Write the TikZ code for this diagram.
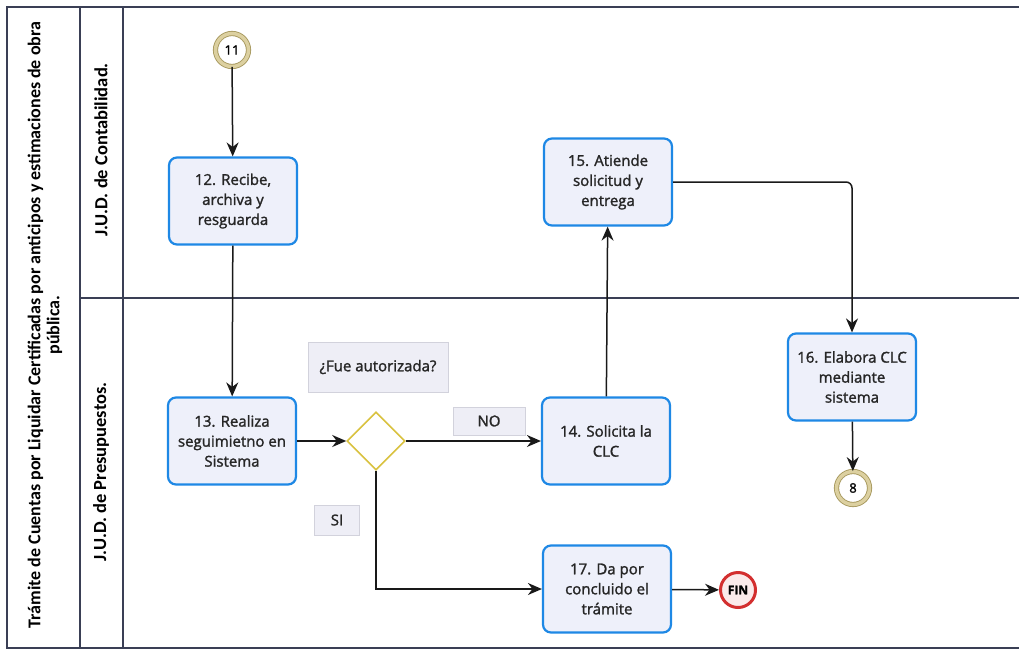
\documentclass[tikz,border=0pt]{standalone}
\usepackage{fontspec}
\setmainfont{Open Sans}[FakeBold=1.6]
\newfontfamily\hdrfont{Carlito}
\usetikzlibrary{arrows.meta,shapes.geometric}
\definecolor{gridc}{HTML}{3A3F55}
\definecolor{taskb}{HTML}{1E88E5}
\definecolor{taskf}{HTML}{EEF0FA}
\definecolor{goldc}{HTML}{A89A60}
\definecolor{goldf}{HTML}{DCD0A0}
\definecolor{finc}{HTML}{D32F2F}
\definecolor{finf}{HTML}{FBEAEA}
\definecolor{diac}{HTML}{D9C23F}
\definecolor{lblf}{HTML}{EEEEF6}
\definecolor{lbld}{HTML}{D2D2DC}
\tikzset{
  grid/.style={draw=gridc, line width=1.2pt},
  hdr/.style={rotate=90, font=\hdrfont\bfseries\fontsize{18.5}{19}\selectfont, align=center},
  task/.style={draw=taskb, fill=taskf, line width=2.2pt, rounded corners=8pt,
    minimum width=128pt, minimum height=87pt, align=center,
    font=\fontsize{15}{20}\selectfont, text=black!85},
  link/.style={line width=1.5pt, draw=black!90, -{Stealth[length=14pt,width=12pt]}},
  goldev/.style={circle, draw=goldc, line width=0.9pt, double=goldf, double distance=3.4pt,
    minimum size=33pt, inner sep=0pt, font=\fontsize{13}{15}\selectfont, fill=white},
  finev/.style={circle, draw=finc, line width=3pt, fill=finf, minimum size=35pt, inner sep=0pt,
    font=\bfseries\fontsize{12}{13}\selectfont},
  gate/.style={diamond, draw=diac, fill=white, line width=1.6pt, minimum width=58pt, minimum height=58pt, inner sep=0pt},
  lbl/.style={fill=lblf, draw=lbld, line width=0.6pt, inner sep=0pt, font=\fontsize{15}{16}\selectfont, text=black!85}
}
\begin{document}
\begin{tikzpicture}[x=1pt,y=-1pt]
\useasboundingbox (0,0) rectangle (1019,651);
\fill[white] (0,0) rectangle (1019,651);
% pool and lanes
\draw[grid] (1019,7) -- (7,7) -- (7,648) -- (1019,648);
\draw[grid] (80,7) -- (80,648);
\draw[grid] (123,7) -- (123,648);
\draw[grid] (80,298) -- (1019,298);
\node[hdr, font=\hdrfont\bfseries\fontsize{18}{19}\selectfont] (title) at (45,325) {Trámite de Cuentas por Liquidar Certificadas por anticipos y estimaciones de obra\\pública.};
\node[hdr] (laneA) at (101,150) {J.U.D. de Contabilidad.};
\node[hdr] (laneB) at (101,472) {J.U.D. de Presupuestos.};
% labels
\node[lbl, minimum width=140pt, minimum height=50pt] (qlbl) at (378,367) {¿Fue autorizada?};
\node[lbl, minimum width=72pt, minimum height=28pt] (nolbl) at (489,421) {NO};
\node[lbl, minimum width=45pt, minimum height=30pt] (silbl) at (337,520) {SI};
% nodes
\node[goldev] (e11) at (232,50) {11};
\node[task] (t12) at (233,201) {12. Recibe,\\archiva y\\resguarda};
\node[task] (t13) at (232,441) {13. Realiza\\seguimietno en\\Sistema};
\node[gate] (g) at (376,441) {};
\node[task] (t14) at (606,441) {14. Solicita la\\CLC};
\node[task] (t15) at (608,182) {15. Atiende\\solicitud y\\entrega};
\node[task] (t16) at (852,377) {16. Elabora CLC\\mediante\\sistema};
\node[goldev] (e8) at (853,488) {8};
\node[task] (t17) at (607,589) {17. Da por\\concluido el\\trámite};
\node[finev] (fin) at (738,590) {FIN};
% connectors
\draw[link] (e11) -- (t12);
\draw[link] (t12) -- (t13);
\draw[link] (t13) -- (g);
\draw[link] (g) -- (t14);
\draw[link] (g.south) |- (t17);
\draw[link] (t14) -- (t15);
\draw[link, rounded corners=6pt] (t15.east) -| (t16.north);
\draw[link] (t16) -- (e8);
\draw[link] (t17) -- (fin);
\end{tikzpicture}
\end{document}
